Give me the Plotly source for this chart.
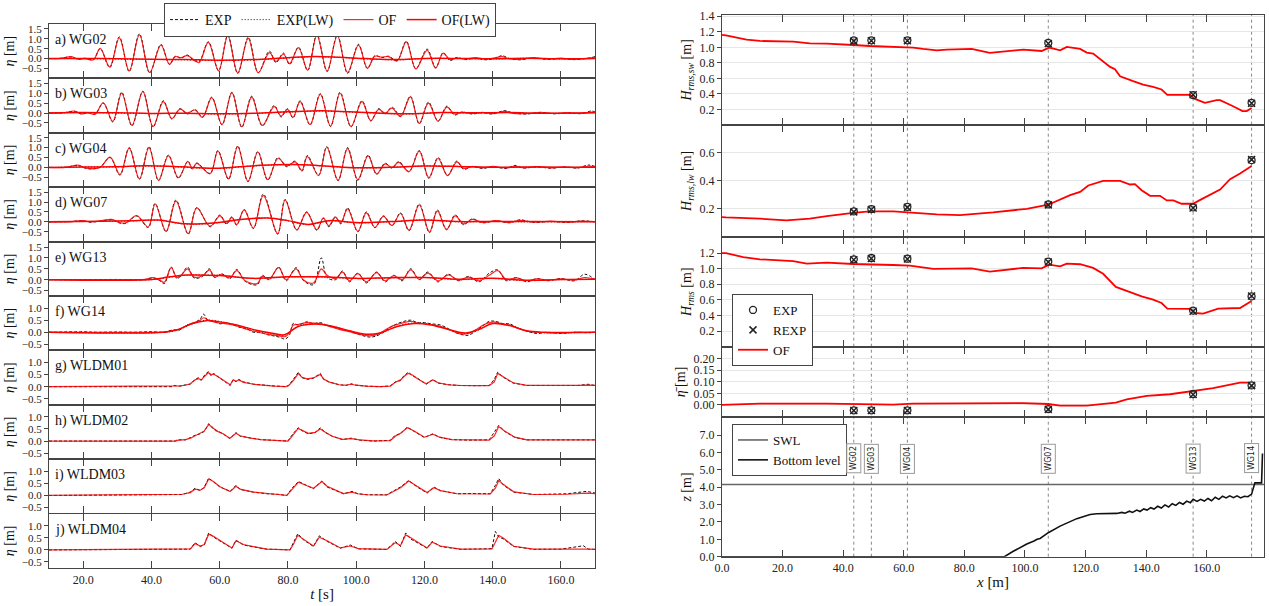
import plotly.graph_objects as go

FONT = "Liberation Serif, Times New Roman, DejaVu Serif, serif"
W, H = 1269, 606

# ---------------- left chart data (t [s], eta [m]) ----------------
PANEL_LABELS = ["a) WG02", "b) WG03", "c) WG04", "d) WG07", "e) WG13",
                "f) WG14", "g) WLDM01", "h) WLDM02", "i) WLDM03", "j) WLDM04"]
T_TICKS = [20, 40, 60, 80, 100, 120, 140, 160]

WG02_EXP = [(10,0),(13,0.01),(16.6,0.08),(18.5,-0.04),(20.5,0.02),(23,-0.05),(25,0.5),(27.8,-0.45),(30.6,1.1),(33.5,-0.65),(36.5,1.25),(39.5,-0.72),(42.8,0.72),(45.3,-0.3),(47,0.12),(48.7,0.02),(50.5,0.18),(52.5,-0.1),(54,-0.15),(56.7,0.85),(59.7,-0.6),(62.4,1.18),(65.3,-0.75),(68.4,1.08),(71.3,-0.7),(74.6,0.38),(76.5,-0.2),(78.7,0.28),(80.5,-0.3),(83.1,0.58),(85.8,-0.6),(88.5,1.22),(91.5,-0.65),(94.5,1.2),(97.5,-0.75),(100.7,0.72),(103.3,-0.5),(105.5,0.15),(107.5,0.05),(109.5,0.12),(112,-0.1),(114.7,0.88),(117.5,-0.5),(120.8,0.48),(123.3,-0.45),(125.5,0.3),(127.5,-0.1),(129.5,0.06),(132,-0.05),(135,0.02),(138,-0.06),(141,0.03),(142.7,0.15),(145,0.0),(148,-0.06),(152,0.03),(156,-0.04),(160,0.0),(164,-0.05),(168,0.02),(170,0.1)]
WG02_OF = [(10,0),(13,0.0),(16.6,0.1),(18.5,-0.03),(20.5,0.0),(23,-0.06),(25,0.52),(27.8,-0.42),(30.6,1.05),(33.5,-0.62),(36.5,1.2),(39.5,-0.7),(42.8,0.68),(45.3,-0.28),(47,0.1),(48.7,0.05),(50.5,0.15),(52.5,-0.05),(54,-0.2),(56.7,0.82),(59.7,-0.62),(62.4,1.15),(65.3,-0.72),(68.4,1.02),(71.3,-0.72),(74.6,0.3),(76.5,-0.15),(78.7,0.22),(80.5,-0.25),(83.1,0.55),(85.8,-0.58),(88.5,1.18),(91.5,-0.62),(94.5,1.15),(97.5,-0.7),(100.7,0.68),(103.3,-0.48),(105.5,0.12),(107.5,0.08),(109.5,0.1),(112,-0.12),(114.7,0.85),(117.5,-0.52),(120.8,0.42),(123.3,-0.48),(125.5,0.28),(127.5,-0.05),(129.5,0.03),(132,-0.02),(135,0.05),(138,-0.03),(141,0.05),(142.7,0.1),(145,-0.02),(148,-0.04),(152,0.05),(156,-0.02),(160,0.02),(164,-0.04),(168,0.03),(170,0.05)]
WG02_EXP_LW = [(10,0),(20,0.0),(30,-0.02),(40,-0.04),(50,-0.06),(60,-0.1),(70,-0.06),(80,0.04),(88,0.1),(95,0.06),(103,-0.02),(112,-0.06),(120,0.0),(130,0.0),(140,-0.02),(150,0.02),(160,-0.02),(170,0.02)]
WG02_OF_LW = [(10,0),(20,0.01),(30,-0.01),(40,-0.03),(50,-0.05),(60,-0.08),(70,-0.05),(80,0.05),(88,0.11),(95,0.07),(103,0.0),(112,-0.05),(120,0.01),(130,0.01),(140,-0.01),(150,0.02),(160,-0.01),(170,0.01)]

WG03_EXP = [(10,0),(14,0.01),(17.5,0.08),(19.5,-0.05),(21.5,0.02),(23.5,-0.05),(25.9,0.5),(28.7,-0.45),(31.3,1.05),(34.3,-0.65),(37.5,1.1),(40.5,-0.7),(43.5,0.62),(46,-0.3),(48.4,0.22),(50.5,-0.05),(52.8,0.18),(55,-0.2),(57.7,0.8),(60.7,-0.6),(63.6,1.05),(66.5,-0.72),(69.4,0.85),(72.5,-0.65),(76,0.38),(78,-0.2),(79.9,0.22),(81.5,-0.25),(83.6,0.62),(86.5,-0.6),(89.5,0.98),(92.5,-0.68),(95.3,1.05),(98.5,-0.7),(101.7,0.62),(104.3,-0.4),(106.6,0.22),(108.5,-0.05),(110.5,0.3),(113,-0.15),(115.9,0.85),(118.5,-0.55),(121.2,0.55),(124,-0.4),(126.6,0.35),(128.8,-0.1),(131,0.05),(134,-0.05),(137,0.02),(140,-0.05),(143.5,0.12),(146,0.0),(150,-0.05),(154,0.03),(158,-0.04),(162,0.0),(166,-0.03),(169,0.1),(170,0.05)]
WG03_OF = [(10,0),(14,0.0),(17.5,0.1),(19.5,-0.04),(21.5,0.0),(23.5,-0.06),(25.9,0.52),(28.7,-0.42),(31.3,1.0),(34.3,-0.62),(37.5,1.08),(40.5,-0.68),(43.5,0.58),(46,-0.28),(48.4,0.2),(50.5,0.0),(52.8,0.15),(55,-0.22),(57.7,0.78),(60.7,-0.58),(63.6,1.02),(66.5,-0.7),(69.4,0.8),(72.5,-0.62),(76,0.32),(78,-0.15),(79.9,0.18),(81.5,-0.22),(83.6,0.58),(86.5,-0.58),(89.5,0.95),(92.5,-0.66),(95.3,1.0),(98.5,-0.68),(101.7,0.58),(104.3,-0.38),(106.6,0.18),(108.5,0.0),(110.5,0.25),(113,-0.18),(115.9,0.82),(118.5,-0.52),(121.2,0.5),(124,-0.42),(126.6,0.3),(128.8,-0.05),(131,0.04),(134,-0.02),(137,0.04),(140,-0.03),(143.5,0.08),(146,-0.02),(150,-0.03),(154,0.04),(158,-0.02),(162,0.02),(166,-0.02),(169,0.05),(170,0.04)]
WG03_EXP_LW = [(10,0),(20,0.02),(30,0.0),(40,-0.03),(50,-0.02),(60,-0.05),(70,-0.02),(80,0.05),(90,0.1),(98,0.05),(105,0.0),(115,-0.05),(125,0.02),(135,0.0),(145,0.02),(155,-0.02),(170,0.02)]
WG03_OF_LW = [(10,0),(20,0.02),(30,0.01),(40,-0.02),(50,-0.01),(60,-0.04),(70,-0.01),(80,0.06),(90,0.11),(98,0.06),(105,0.01),(115,-0.04),(125,0.02),(135,0.01),(145,0.02),(155,-0.01),(170,0.01)]

WG04_EXP = [(10,0),(15,0.01),(18.5,0.1),(20.5,-0.03),(22.5,-0.08),(25,0.02),(27.9,0.5),(30.8,-0.39),(33.5,1.0),(36.5,-0.6),(39.3,1.05),(42.1,-0.67),(45,0.62),(47.9,-0.55),(50.7,0.32),(52,-0.1),(53.3,0.22),(57.2,-0.3),(59.5,0.85),(62.6,-0.6),(65.3,1.08),(68.3,-0.72),(71.2,0.8),(74.1,-0.64),(77.1,0.5),(79.7,0.03),(82.1,0.32),(84.1,-0.2),(85.7,0.6),(89,-0.39),(91.4,1.05),(94.7,-0.67),(97.5,1.0),(100.5,-0.65),(103.5,0.62),(106,-0.35),(108.5,0.22),(110.5,-0.05),(112.5,0.3),(115.5,-0.2),(118.5,0.85),(121.3,-0.55),(124,0.5),(126.8,-0.4),(129.5,0.32),(131.5,-0.1),(134,0.05),(137,-0.05),(140,0.03),(144,-0.05),(146.5,0.1),(149,-0.03),(153,0.03),(157,-0.04),(161,0.02),(165,-0.03),(168,0.12),(170,0.05)]
WG04_OF = [(10,0),(15,0.0),(18.5,0.12),(20.5,-0.02),(22.5,-0.06),(25,0.0),(27.9,0.52),(30.8,-0.36),(33.5,0.98),(36.5,-0.58),(39.3,1.0),(42.1,-0.65),(45,0.6),(47.9,-0.52),(50.7,0.3),(52,-0.05),(53.3,0.2),(57.2,-0.32),(59.5,0.82),(62.6,-0.58),(65.3,1.05),(68.3,-0.7),(71.2,0.78),(74.1,-0.62),(77.1,0.45),(79.7,0.08),(82.1,0.28),(84.1,-0.15),(85.7,0.55),(89,-0.42),(91.4,1.02),(94.7,-0.65),(97.5,0.95),(100.5,-0.62),(103.5,0.58),(106,-0.32),(108.5,0.18),(110.5,0.0),(112.5,0.25),(115.5,-0.22),(118.5,0.82),(121.3,-0.52),(124,0.45),(126.8,-0.42),(129.5,0.28),(131.5,-0.05),(134,0.04),(137,-0.02),(140,0.05),(144,-0.03),(146.5,0.06),(149,-0.02),(153,0.04),(157,-0.02),(161,0.03),(165,-0.02),(168,0.06),(170,0.04)]
WG04_EXP_LW = [(10,0),(20,0.02),(30,0.03),(38,0.07),(45,0.05),(52,-0.02),(60,-0.05),(68,0.05),(76,0.12),(84,0.15),(92,0.05),(100,-0.03),(110,0.0),(120,0.08),(130,0.05),(140,0.0),(150,0.02),(160,0.0),(170,0.02)]
WG04_OF_LW = [(10,0),(20,0.02),(30,0.04),(38,0.08),(45,0.06),(52,0.0),(60,-0.04),(68,0.06),(76,0.13),(84,0.14),(92,0.06),(100,-0.02),(110,0.01),(120,0.07),(130,0.05),(140,0.01),(150,0.02),(160,0.01),(170,0.01)]

WG07_EXP = [(10,0),(16,0.01),(20,0.05),(22,-0.02),(25,0.03),(28.4,0.1),(30.5,-0.05),(32.5,-0.08),(35.7,0.29),(39.1,-0.29),(41.1,0.93),(44.3,-0.5),(47.2,1.1),(50.8,-0.62),(53.3,0.72),(57.2,-0.25),(60.1,0.34),(62,-0.12),(63.6,0.25),(65,-0.17),(67.2,0.62),(69.9,-0.34),(72.8,1.4),(77,-0.62),(79.2,1.13),(82.6,-0.42),(85.5,0.5),(88.5,-0.42),(90.4,0.17),(92,-0.25),(93.9,0.22),(95.5,-0.1),(97.5,0.7),(100.5,-0.5),(103,0.5),(105.5,-0.3),(108,0.3),(110.5,-0.2),(113,0.45),(115.5,-0.45),(118.5,0.9),(121.5,-0.55),(123.8,0.6),(126.5,-0.4),(129,0.35),(131.5,-0.15),(134,0.15),(137,-0.05),(141,0.05),(145,-0.05),(148,0.1),(152,-0.03),(157,0.02),(162,-0.03),(166,0.05),(170,0.0)]
WG07_OF = [(10,0),(16,0.0),(20,0.06),(22,0.0),(25,0.05),(28.4,0.12),(30.5,-0.03),(32.5,-0.05),(35.7,0.32),(39.1,-0.26),(41.1,0.9),(44.3,-0.48),(47.2,1.05),(50.8,-0.6),(53.3,0.7),(57.2,-0.22),(60.1,0.3),(62,-0.08),(63.6,0.22),(65,-0.14),(67.2,0.6),(69.9,-0.32),(72.8,1.32),(77,-0.6),(79.2,1.1),(82.6,-0.4),(85.5,0.48),(88.5,-0.4),(90.4,0.2),(92,-0.2),(93.9,0.25),(95.5,-0.05),(97.5,0.65),(100.5,-0.48),(103,0.45),(105.5,-0.28),(108,0.28),(110.5,-0.18),(113,0.42),(115.5,-0.42),(118.5,0.85),(121.5,-0.52),(123.8,0.55),(126.5,-0.38),(129,0.3),(131.5,-0.1),(134,0.12),(137,-0.03),(141,0.06),(145,-0.03),(148,0.07),(152,-0.02),(157,0.03),(162,-0.02),(166,0.03),(170,0.01)]
WG07_EXP_LW = [(10,0),(25,0.02),(35,0.05),(42,0.08),(50,-0.12),(58,-0.08),(66,0.1),(74,0.2),(80,0.05),(86,-0.15),(92,0.05),(100,-0.05),(110,0.0),(120,0.1),(130,0.0),(140,0.02),(150,0.0),(170,0.0)]
WG07_OF_LW = [(10,0),(25,0.03),(35,0.06),(42,0.09),(50,-0.1),(58,-0.06),(66,0.12),(74,0.19),(80,0.06),(86,-0.13),(92,0.06),(100,-0.04),(110,0.01),(120,0.09),(130,0.01),(140,0.02),(150,0.01),(170,0.0)]

WG13_EXP = [(10,0),(20,0.0),(30,0.01),(38,0.0),(40.5,0.08),(42.5,-0.05),(43.8,-0.18),(45.8,0.58),(47.5,0.05),(48.8,0.2),(50.6,0.58),(52.5,0.08),(55,0.15),(57,0.5),(58.5,0.1),(60.6,0.27),(63,0.05),(65,0.47),(67.5,-0.08),(71,-0.23),(72.5,0.2),(74.5,0.0),(77.3,0.58),(79.5,-0.05),(82.4,0.55),(84.5,-0.03),(87.5,-0.23),(89.8,1.0),(91.5,0.1),(94,0.0),(96,0.4),(98,-0.1),(100.5,0.3),(103,-0.15),(106,0.35),(108.5,-0.1),(111,0.2),(113.5,-0.05),(116,0.5),(118.5,0.0),(121,0.35),(124,-0.1),(127,0.25),(130,-0.05),(133,0.15),(136,-0.1),(139,0.3),(141.5,0.45),(144,-0.05),(147,0.1),(150,-0.1),(153,0.05),(156,-0.05),(160,0.05),(164,-0.05),(167,0.25),(170,0.0)]
WG13_OF = [(10,0),(20,0.0),(30,0.0),(38,0.02),(40.5,0.1),(42.5,-0.02),(43.8,-0.12),(45.8,0.55),(47.5,0.1),(48.8,0.22),(50.6,0.5),(52.5,0.12),(55,0.18),(57,0.45),(58.5,0.12),(60.6,0.25),(63,0.08),(65,0.42),(67.5,-0.05),(71,-0.18),(72.5,0.15),(74.5,0.02),(77.3,0.55),(79.5,0.0),(82.4,0.5),(84.5,0.0),(87.5,-0.15),(89.8,0.5),(91.5,0.2),(94,0.05),(96,0.35),(98,-0.05),(100.5,0.28),(103,-0.1),(106,0.32),(108.5,-0.05),(111,0.18),(113.5,0.0),(116,0.45),(118.5,0.02),(121,0.3),(124,-0.05),(127,0.22),(130,-0.02),(133,0.12),(136,-0.05),(139,0.2),(141.5,0.42),(144,0.0),(147,0.08),(150,-0.05),(153,0.04),(156,-0.02),(160,0.04),(164,-0.02),(167,0.1),(170,0.02)]
WG13_EXP_LW = [(10,0),(40,0.0),(45,0.1),(50,0.2),(60,0.2),(70,0.05),(80,0.12),(90,0.12),(100,0.05),(110,0.08),(120,0.1),(130,0.0),(140,0.05),(150,-0.05),(160,0.0),(170,0.02)]
WG13_OF_LW = [(10,0),(40,0.01),(45,0.12),(50,0.21),(60,0.19),(70,0.06),(80,0.13),(90,0.13),(100,0.06),(110,0.09),(120,0.1),(130,0.02),(140,0.06),(150,-0.03),(160,0.01),(170,0.02)]

WG14_EXP = [(10,0),(20,0.02),(24,0.0),(30,0.01),(35,0.0),(40,0.02),(43.5,0.0),(45,0.05),(46.5,0.1),(48,0.08),(50.4,0.3),(52,0.35),(54.3,0.55),(55.3,0.75),(56.5,0.5),(58.5,0.45),(60.1,0.35),(62,0.4),(64,0.3),(66,0.2),(68,0.15),(69.9,0.0),(72,0.0),(74,-0.1),(75.8,-0.15),(77.5,-0.2),(79.2,-0.28),(80.5,-0.1),(81.6,0.37),(83,0.3),(85.6,0.43),(87.5,0.35),(89.5,0.4),(92,0.25),(95,0.15),(98,0.05),(101,-0.1),(104,-0.2),(106,-0.15),(108,0.0),(110,0.2),(112,0.35),(114,0.45),(116,0.5),(118,0.4),(120,0.4),(122,0.35),(124.7,0.3),(127,0.15),(129,0.0),(131,-0.1),(133,-0.12),(135,0.05),(137,0.25),(139,0.45),(141,0.45),(143,0.35),(145,0.35),(147,0.2),(150,0.05),(153,-0.05),(156,0.0),(160,-0.05),(164,0.0),(168,-0.02),(170,0.0)]
WG14_OF = [(10,0),(20,0.0),(24,0.0),(30,0.0),(35,0.0),(40,0.0),(43.5,0.0),(45,0.03),(46.5,0.08),(48,0.12),(50.4,0.28),(52,0.38),(54.3,0.5),(55.3,0.6),(56.5,0.52),(58.5,0.42),(60.1,0.38),(62,0.35),(64,0.3),(66,0.22),(68,0.12),(69.9,0.05),(72,-0.02),(74,-0.08),(75.8,-0.12),(77.5,-0.15),(79.2,-0.18),(80.5,-0.02),(81.6,0.3),(83,0.32),(85.6,0.4),(87.5,0.38),(89.5,0.35),(92,0.25),(95,0.12),(98,0.02),(101,-0.08),(104,-0.15),(106,-0.1),(108,0.05),(110,0.22),(112,0.32),(114,0.4),(116,0.45),(118,0.38),(120,0.36),(122,0.32),(124.7,0.25),(127,0.12),(129,0.0),(131,-0.08),(133,-0.05),(135,0.1),(137,0.28),(139,0.4),(141,0.42),(143,0.32),(145,0.3),(147,0.18),(150,0.05),(153,0.0),(156,-0.02),(160,-0.03),(164,0.0),(168,0.0),(170,0.0)]
WG14_EXP_LW = [(10,0),(44,0),(48,0.1),(52,0.35),(56,0.5),(60,0.45),(65,0.3),(70,0.1),(75,-0.05),(79,-0.12),(83,0.25),(88,0.35),(93,0.25),(98,0.05),(103,-0.1),(107,-0.05),(112,0.25),(117,0.38),(122,0.32),(127,0.12),(132,-0.05),(136,0.1),(140,0.38),(145,0.3),(150,0.05),(155,-0.02),(170,0.0)]
WG14_OF_LW = [(10,0),(44,0.01),(48,0.12),(52,0.36),(56,0.48),(60,0.43),(65,0.3),(70,0.11),(75,-0.03),(79,-0.1),(83,0.24),(88,0.34),(93,0.25),(98,0.06),(103,-0.08),(107,-0.03),(112,0.24),(117,0.36),(122,0.3),(127,0.12),(132,-0.03),(136,0.12),(140,0.36),(145,0.28),(150,0.06),(155,0.0),(170,0.0)]

WLDM01_EXP = [(10,0),(46,0),(46.5,0.05),(48.4,0.02),(50,0.08),(51.4,0.1),(52.8,0.3),(53.8,0.37),(54.6,0.26),(55.7,0.5),(56.7,0.62),(57.5,0.45),(58.2,0.55),(60.1,0.37),(62,0.18),(63.1,0.05),(64,0.3),(64.8,0.2),(65.6,0.3),(67,0.2),(70,0.1),(73,0.05),(76,0.03),(79.3,0.0),(80.2,0.05),(81.6,0.3),(83.1,0.6),(84,0.38),(85.6,0.3),(87.5,0.35),(88.5,0.45),(89.5,0.55),(90.5,0.3),(92,0.2),(95,0.08),(97,0.05),(98.5,0.12),(100,0.06),(103,0.02),(107,0.0),(110,0.03),(111.5,0.2),(113,0.25),(114,0.45),(115.3,0.6),(116.5,0.45),(118,0.35),(120.5,0.1),(122.5,0.3),(124,0.15),(127,0.08),(130,0.05),(135,0.04),(139,0.05),(140.5,0.3),(141.5,0.6),(143,0.4),(146,0.15),(150,0.05),(155,0.04),(160,0.05),(165,0.05),(168,0.1),(170,0.05)]
WLDM01_OF = [(10,0),(46,0),(47,0.03),(48.4,0.03),(50,0.06),(51.4,0.12),(52.8,0.28),(53.8,0.33),(54.6,0.28),(55.7,0.45),(56.7,0.58),(57.5,0.5),(58.2,0.52),(60.1,0.36),(62,0.2),(63.1,0.08),(64,0.28),(64.8,0.22),(65.6,0.28),(67,0.18),(70,0.1),(73,0.05),(76,0.02),(79.3,0.0),(80.2,0.04),(81.6,0.25),(83.1,0.55),(84,0.4),(85.6,0.32),(87.5,0.36),(88.5,0.42),(89.5,0.5),(90.5,0.32),(92,0.2),(95,0.08),(97,0.06),(98.5,0.1),(100,0.06),(103,0.02),(107,0.0),(110,0.02),(111.5,0.18),(113,0.28),(114,0.42),(115.3,0.55),(116.5,0.48),(118,0.33),(120.5,0.12),(122.5,0.28),(124,0.16),(127,0.08),(130,0.05),(135,0.04),(139,0.04),(140.5,0.2),(141.5,0.55),(143,0.42),(146,0.16),(150,0.05),(155,0.04),(160,0.04),(165,0.05),(168,0.06),(170,0.05)]

WLDM02_EXP = [(10,0),(47,0),(47.5,0.05),(50,0.05),(51.5,0.15),(53,0.25),(54.3,0.3),(55.5,0.4),(56.8,0.72),(57.8,0.55),(59,0.45),(61,0.3),(63,0.1),(64.8,0.35),(66,0.2),(69,0.12),(72,0.06),(76,0.03),(80,0.0),(81.5,0.3),(83,0.55),(84.5,0.4),(86,0.3),(88,0.35),(89.5,0.55),(91,0.35),(93,0.2),(96,0.06),(98.5,0.12),(101,0.04),(105,0.0),(110,0.03),(111.5,0.25),(113,0.3),(115,0.58),(117,0.4),(120,0.15),(122.5,0.3),(124.5,0.15),(128,0.06),(133,0.04),(139,0.05),(140.5,0.35),(141.8,0.65),(143.5,0.4),(146.5,0.15),(150,0.05),(160,0.05),(165,0.06),(170,0.05)]
WLDM02_OF = [(10,0),(47,0),(48,0.04),(50,0.06),(51.5,0.12),(53,0.22),(54.3,0.32),(55.5,0.42),(56.8,0.68),(57.8,0.58),(59,0.42),(61,0.3),(63,0.12),(64.8,0.32),(66,0.22),(69,0.12),(72,0.06),(76,0.02),(80,0.0),(81.5,0.25),(83,0.52),(84.5,0.42),(86,0.32),(88,0.36),(89.5,0.5),(91,0.36),(93,0.2),(96,0.07),(98.5,0.1),(101,0.05),(105,0.01),(110,0.02),(111.5,0.2),(113,0.32),(115,0.55),(117,0.42),(120,0.16),(122.5,0.28),(124.5,0.16),(128,0.06),(133,0.04),(139,0.04),(140.5,0.22),(141.8,0.6),(143.5,0.42),(146.5,0.16),(150,0.05),(160,0.04),(165,0.05),(170,0.05)]

WLDM03_EXP = [(10,0),(46.9,0.03),(49,0.04),(51.4,0.14),(52.8,0.3),(54.3,0.2),(55.5,0.35),(56.8,0.72),(58.2,0.55),(60.1,0.35),(63.1,0.17),(64.8,0.42),(66,0.25),(69.9,0.14),(73.8,0.07),(77,0.05),(79.7,0.0),(81.1,0.28),(83.1,0.58),(85.6,0.39),(87.5,0.28),(90,0.6),(91.5,0.35),(96.3,0.07),(98.8,0.17),(100.5,0.07),(103.2,0.03),(109,0.03),(111,0.2),(113,0.35),(115.4,0.62),(117.9,0.35),(120.8,0.1),(122.8,0.35),(124.7,0.2),(129.6,0.07),(132.6,0.08),(139.3,0.07),(140.8,0.42),(141.8,0.7),(143.2,0.42),(146.2,0.14),(152,0.04),(161.8,0.07),(167.6,0.17),(170,0.1)]
WLDM03_OF = [(10,0),(47,0.02),(49,0.05),(51.4,0.12),(52.8,0.26),(54.3,0.22),(55.5,0.32),(56.8,0.68),(58.2,0.58),(60.1,0.36),(63.1,0.16),(64.8,0.38),(66,0.26),(69.9,0.14),(73.8,0.07),(77,0.04),(79.7,0.0),(81.1,0.24),(83.1,0.55),(85.6,0.4),(87.5,0.3),(90,0.58),(91.5,0.38),(96.3,0.08),(98.8,0.14),(100.5,0.07),(103.2,0.03),(109,0.02),(111,0.16),(113,0.32),(115.4,0.6),(117.9,0.38),(120.8,0.12),(122.8,0.32),(124.7,0.2),(129.6,0.07),(132.6,0.06),(139.3,0.06),(140.8,0.3),(141.8,0.62),(143.2,0.45),(146.2,0.15),(152,0.04),(161.8,0.05),(167.6,0.1),(170,0.08)]

WLDM04_EXP = [(10,0),(48.4,0.04),(51.4,0.03),(52.8,0.3),(54.3,0.14),(55.5,0.2),(56.8,0.7),(58.2,0.53),(61.1,0.28),(63.6,0.07),(64.8,0.4),(67,0.2),(71.9,0.07),(73.8,0.03),(80.6,0.0),(81.6,0.28),(82.9,0.67),(84.5,0.42),(87.5,0.14),(89.2,0.58),(91.5,0.35),(95.4,0.07),(98.3,0.2),(100.7,0.04),(109,0.02),(111.5,0.35),(113,0.14),(114.5,0.7),(116,0.45),(120.8,0.07),(122.3,0.35),(124.7,0.14),(130.6,0.02),(139.8,0.05),(140.8,0.76),(141.8,0.53),(143.2,0.45),(146.2,0.14),(152,0.02),(160,0.03),(166.6,0.17),(168,0.03),(170,0.02)]
WLDM04_OF = [(10,0),(48.4,0.03),(51.4,0.04),(52.8,0.26),(54.3,0.16),(55.5,0.22),(56.8,0.65),(58.2,0.56),(61.1,0.3),(63.6,0.08),(64.8,0.38),(67,0.22),(71.9,0.08),(73.8,0.03),(80.6,0.0),(81.6,0.22),(82.9,0.6),(84.5,0.45),(87.5,0.16),(89.2,0.52),(91.5,0.38),(95.4,0.08),(98.3,0.16),(100.7,0.05),(109,0.02),(111.5,0.3),(113,0.18),(114.5,0.62),(116,0.5),(120.8,0.08),(122.3,0.32),(124.7,0.16),(130.6,0.03),(139.8,0.04),(140.8,0.3),(141.8,0.6),(143.2,0.48),(146.2,0.15),(152,0.03),(160,0.03),(166.6,0.06),(168,0.03),(170,0.02)]

# ---------------- right chart data (x [m]) ----------------
X_TICKS = [0, 20, 40, 60, 80, 100, 120, 140, 160]
WG_NAMES = ["WG02", "WG03", "WG04", "WG07", "WG13", "WG14"]
WG_X = [43.5, 49.3, 61.2, 107.7, 155.5, 174.8]

HSW_EXP = [1.09, 1.09, 1.09, 1.056, 0.384, 0.285]
HSW_REXP = [1.08, 1.085, 1.085, 1.05, 0.39, 0.28]
HLW_EXP = [0.181, 0.198, 0.214, 0.231, 0.21, 0.548]
HLW_REXP = [0.178, 0.195, 0.21, 0.228, 0.205, 0.552]
HRMS_EXP = [1.12, 1.137, 1.128, 1.09, 0.463, 0.645]
HRMS_REXP = [1.115, 1.13, 1.125, 1.085, 0.455, 0.65]
SETUP_EXP = [-0.023, -0.023, -0.023, -0.018, 0.047, 0.084]
SETUP_REXP = [-0.024, -0.024, -0.024, -0.019, 0.045, 0.083]

HSW_OF = [(0,1.16),(1.3,1.155),(8.1,1.1),(12.5,1.082),(23.5,1.074),(29,1.052),(34.6,1.048),(40,1.04),(43.3,1.03),(48.8,1.017),(56.5,1.005),(63.1,0.997),(66.4,0.979),(70.9,0.962),(74.2,0.97),(78.5,0.971),(82.4,0.979),(88.4,0.928),(99.4,0.971),(105.5,0.953),(108,0.997),(111.6,0.962),(113.8,1.005),(118.2,0.979),(120.4,0.933),(122.5,0.92),(125.8,0.825),(128.1,0.748),(129.7,0.718),(131.4,0.628),(135.7,0.564),(139,0.521),(142.3,0.49),(145.1,0.457),(147,0.388),(154.5,0.388),(156.1,0.336),(159.4,0.285),(163.3,0.32),(164.4,0.32),(168.7,0.242),(171.8,0.178),(173.2,0.18),(174.8,0.22)]
HLW_OF = [(0,0.14),(1.3,0.138),(12.5,0.129),(21.3,0.117),(29,0.129),(34.6,0.148),(43.3,0.171),(48.8,0.181),(56.5,0.181),(63.1,0.171),(70.9,0.16),(78.5,0.155),(89.5,0.174),(100.6,0.2),(107.7,0.229),(114.9,0.298),(118.2,0.321),(120.9,0.367),(125.8,0.4),(131.4,0.4),(134.7,0.374),(136.3,0.376),(138.5,0.333),(141.3,0.293),(144.6,0.293),(146.8,0.26),(149,0.26),(151.7,0.236),(155.5,0.236),(157.7,0.262),(162.1,0.31),(164.4,0.338),(167.7,0.412),(171,0.453),(174.8,0.507)]
HRMS_OF = [(0,1.2),(1.3,1.2),(7,1.149),(12.5,1.12),(23.5,1.098),(28,1.065),(34.6,1.078),(43.3,1.06),(56.5,1.047),(62,1.04),(69.8,0.997),(74.2,0.997),(78.5,1.005),(82.4,1.005),(88.4,0.963),(99.4,1.01),(105.5,1.005),(108,1.052),(111.6,1.03),(113.8,1.065),(118.2,1.057),(122.5,1.01),(125.8,0.934),(130,0.767),(134.7,0.7),(138.5,0.645),(142.3,0.603),(145.1,0.56),(147,0.488),(154.5,0.485),(156.1,0.432),(158.8,0.425),(163.8,0.488),(171,0.496),(174.8,0.585)]
SETUP_OF = [(0,0.0),(12.5,0.006),(34.6,0.006),(56.5,0.001),(63,0.006),(81.8,0.008),(99.4,0.008),(107.7,0.004),(111.6,-0.003),(120.4,-0.003),(130,0.01),(133.6,0.024),(140.2,0.039),(147.9,0.046),(155.5,0.06),(162.1,0.072),(171,0.096),(174.3,0.096)]

SWL_LEVEL = [(0,4.15),(179,4.15)]
BOTTOM = [(0,0),(93.2,0),(96,0.3),(100.6,0.73),(103,0.9),(104,1.0),(105,1.05),(105.5,1.12),(107.7,1.38),(111.6,1.76),(117.1,2.19),(121.5,2.43),(123.7,2.47),(130.3,2.49),(132,2.55),(133,2.5),(134.5,2.62),(135.5,2.55),(136.9,2.68),(138,2.6),(139.2,2.75),(140.3,2.68),(141.5,2.82),(142.6,2.74),(143.8,2.9),(145,2.8),(146.2,2.98),(147.4,2.86),(148.6,3.05),(149.8,2.95),(151,3.12),(152.2,3.02),(153.4,3.2),(154.6,3.1),(155.5,3.3),(156.8,3.18),(158,3.3),(159.2,3.2),(160.4,3.35),(161.6,3.22),(162.8,3.42),(164,3.3),(165.2,3.48),(166.4,3.38),(167.6,3.5),(168.8,3.4),(170,3.5),(171.2,3.38),(172.4,3.48),(173.6,3.45),(174.8,3.6),(175.9,4.25),(178.1,4.25),(178.4,5.94)]


def unz(pairs):
    return [p[0] for p in pairs], [p[1] for p in pairs]


def ydom(top_px, bot_px):
    return [1 - bot_px / H, 1 - top_px / H]


AX_COLOR = "#444"
TICKFONT = dict(family=FONT, size=12, color="#222")
LTICKFONT = dict(family=FONT, size=11, color="#222")
RED = "#ff0000"

fig = go.Figure()
layout = {}
annotations = []
shapes = []

LX0, LX1 = 49 / W, 595 / W
PTOP, PH = 24.0, 54.4

left_panels = [
    (WG02_EXP, WG02_OF, WG02_EXP_LW, WG02_OF_LW),
    (WG03_EXP, WG03_OF, WG03_EXP_LW, WG03_OF_LW),
    (WG04_EXP, WG04_OF, WG04_EXP_LW, WG04_OF_LW),
    (WG07_EXP, WG07_OF, WG07_EXP_LW, WG07_OF_LW),
    (WG13_EXP, WG13_OF, WG13_EXP_LW, WG13_OF_LW),
    (WG14_EXP, WG14_OF, WG14_EXP_LW, WG14_OF_LW),
    (WLDM01_EXP, WLDM01_OF, None, None),
    (WLDM02_EXP, WLDM02_OF, None, None),
    (WLDM03_EXP, WLDM03_OF, None, None),
    (WLDM04_EXP, WLDM04_OF, None, None),
]

for i, (exp, of, exp_lw, of_lw) in enumerate(left_panels):
    k = i + 1
    xs, ys = f"x{k}", f"y{k}"
    top = PTOP + PH * i
    if i < 4:
        yr = [-1.0, 1.75]; yt = [-0.5, 0, 0.5, 1.0, 1.5]
    elif i == 4:
        yr = [-0.75, 1.75]; yt = [-0.5, 0, 0.5, 1.0, 1.5]
    else:
        yr = [-0.75, 1.5]; yt = [-0.5, 0, 0.5, 1.0]
    wg = i < 6
    shape = "spline" if wg else "linear"
    t, v = unz(exp)
    fig.add_trace(go.Scatter(x=t, y=v, xaxis=xs, yaxis=ys, mode="lines", name="EXP",
                             line=dict(color="#111", width=1, dash="3px,2px", shape=shape),
                             showlegend=(i == 0), legend="legend"))
    if exp_lw is not None:
        t, v = unz(exp_lw)
        fig.add_trace(go.Scatter(x=t, y=v, xaxis=xs, yaxis=ys, mode="lines", name="EXP(LW)",
                                 line=dict(color="#111", width=1, dash="1px,2px", shape="spline"),
                                 showlegend=(i == 0), legend="legend"))
    t, v = unz(of)
    fig.add_trace(go.Scatter(x=t, y=v, xaxis=xs, yaxis=ys, mode="lines", name="OF",
                             line=dict(color=RED, width=1.2, shape=shape), opacity=0.85,
                             showlegend=(i == 0), legend="legend"))
    if of_lw is not None:
        t, v = unz(of_lw)
        fig.add_trace(go.Scatter(x=t, y=v, xaxis=xs, yaxis=ys, mode="lines", name="OF(LW)",
                                 line=dict(color=RED, width=1.5, shape="spline"),
                                 showlegend=(i == 0), legend="legend"))
    xa = dict(domain=[LX0, LX1], range=[10, 170], anchor=ys, automargin=False,
              tickvals=T_TICKS, tickformat=".1f", ticks="inside", ticklen=7,
              tickcolor=AX_COLOR, mirror="allticks", showline=True,
              linecolor=AX_COLOR, linewidth=1.3, showgrid=False, zeroline=False,
              showticklabels=(i == 9), tickfont=TICKFONT)
    if i == 9:
        xa["title"] = dict(text="<i>t</i> [s]", font=dict(family=FONT, size=15), standoff=2)
    layout[f"xaxis{k}"] = xa
    layout[f"yaxis{k}"] = dict(domain=ydom(top, top + PH), range=yr, anchor=xs, automargin=False,
                               tickvals=yt, tickformat=".1f", ticks="outside", ticklen=4,
                               tickcolor=AX_COLOR, showline=True, mirror=True,
                               linecolor=AX_COLOR, linewidth=1.3, showgrid=False, zeroline=False,
                               tickfont=LTICKFONT,
                               title=dict(text="<i>η</i> [m]", font=dict(family=FONT, size=14), standoff=3))
    ko = 100 + k
    layout[f"yaxis{ko}"] = dict(overlaying=ys, side="right", anchor=xs, range=yr, automargin=False,
                                tickvals=yt, ticks="inside", ticklen=5, tickcolor=AX_COLOR,
                                showticklabels=False, showline=False, showgrid=False, zeroline=False)
    annotations.append(dict(text=PANEL_LABELS[i], xref="paper", yref="paper",
                            x=53 / W, y=1 - (top + 16) / H, xanchor="left", yanchor="middle",
                            showarrow=False, font=dict(family=FONT, size=14, color="#111")))

# ---------------- right chart ----------------
RX0, RX1 = 722 / W, 1264 / W
right_px = [(14.7, 125.0), (125.0, 236.7), (236.7, 346.7), (346.7, 417.3), (417.3, 556.7)]
right_ranges = [[0, 1.42], [0, 0.8], [0, 1.41], [-0.053, 0.25], [0, 8.02]]
right_ticks = [[0.2, 0.4, 0.6, 0.8, 1.0, 1.2, 1.4], [0.2, 0.4, 0.6], [0.2, 0.4, 0.6, 0.8, 1.0, 1.2],
               [0.0, 0.05, 0.10, 0.15, 0.20], [0, 1, 2, 3, 4, 5, 6, 7]]
right_fmt = [".1f", ".1f", ".1f", ".2f", ".1f"]
right_titles = ["<i>H</i><sub><i>rms,sw</i></sub> [m]", "<i>H</i><sub><i>rms,lw</i></sub> [m]",
                "<i>H</i><sub><i>rms</i></sub> [m]", "<i>η̄</i> [m]", "<i>z</i> [m]"]
right_of = [HSW_OF, HLW_OF, HRMS_OF, SETUP_OF, None]
right_exp = [(HSW_EXP, HSW_REXP), (HLW_EXP, HLW_REXP), (HRMS_EXP, HRMS_REXP), (SETUP_EXP, SETUP_REXP), None]

for j in range(5):
    k = 11 + j
    xs, ys = f"x{k}", f"y{k}"
    top, bot = right_px[j]
    if right_of[j] is not None:
        xx, vv = unz(right_of[j])
        fig.add_trace(go.Scatter(x=xx, y=vv, xaxis=xs, yaxis=ys, mode="lines", name="OF",
                                 line=dict(color=RED, width=1.8), showlegend=(j == 2),
                                 legend="legend2", legendrank=3))
        e, r = right_exp[j]
        fig.add_trace(go.Scatter(x=WG_X, y=e, xaxis=xs, yaxis=ys, mode="markers", name="EXP",
                                 marker=dict(symbol="circle-open", size=7, color="#222", line=dict(width=1.3)),
                                 showlegend=(j == 2), legend="legend2", legendrank=1))
        fig.add_trace(go.Scatter(x=WG_X, y=r, xaxis=xs, yaxis=ys, mode="markers", name="REXP",
                                 marker=dict(symbol="x-thin-open", size=7, color="#222", line=dict(width=1.5)),
                                 showlegend=(j == 2), legend="legend2", legendrank=2))
    else:
        xx, vv = unz(SWL_LEVEL)
        fig.add_trace(go.Scatter(x=xx, y=vv, xaxis=xs, yaxis=ys, mode="lines", name="SWL",
                                 line=dict(color="#666", width=1.6), legend="legend3"))
        xx, vv = unz(BOTTOM)
        fig.add_trace(go.Scatter(x=xx, y=vv, xaxis=xs, yaxis=ys, mode="lines", name="Bottom level",
                                 line=dict(color="#111", width=1.6), legend="legend3"))
    xa = dict(domain=[RX0, RX1], range=[0, 178.9], anchor=ys, automargin=False,
              tickvals=X_TICKS, tickformat=".1f", ticks="inside", ticklen=7,
              tickcolor=AX_COLOR, mirror="allticks", showline=True,
              linecolor=AX_COLOR, linewidth=1.3, showgrid=False, zeroline=False,
              showticklabels=(j == 4), tickfont=TICKFONT)
    if j == 4:
        xa["title"] = dict(text="<i>x</i> [m]", font=dict(family=FONT, size=15), standoff=2)
    layout[f"xaxis{k}"] = xa
    layout[f"yaxis{k}"] = dict(domain=ydom(top, bot), range=right_ranges[j], anchor=xs, automargin=False,
                               tickvals=right_ticks[j], tickformat=right_fmt[j], ticks="outside", ticklen=4,
                               tickcolor=AX_COLOR, showline=True, mirror=True,
                               linecolor=AX_COLOR, linewidth=1.3, showgrid=(j < 4), gridcolor="#e6e6e6",
                               gridwidth=1, zeroline=False, tickfont=TICKFONT,
                               title=dict(text=right_titles[j], font=dict(family=FONT, size=14), standoff=4))
    ko = 100 + k
    layout[f"yaxis{ko}"] = dict(overlaying=ys, side="right", anchor=xs, range=right_ranges[j], automargin=False,
                                tickvals=right_ticks[j], ticks="inside", ticklen=5, tickcolor=AX_COLOR,
                                showticklabels=False, showline=False, showgrid=False, zeroline=False)

for name, xw in zip(WG_NAMES, WG_X):
    shapes.append(dict(type="line", xref="x11", yref="paper", x0=xw, x1=xw,
                       y0=1 - 556.7 / H, y1=1 - 14.7 / H, layer="below",
                       line=dict(color="#888", width=1, dash="dot")))
    annotations.append(dict(text=name, xref="x15", yref="y15", x=xw, y=5.65, textangle=-90,
                            showarrow=False, font=dict(family="DejaVu Sans", size=8, color="#222"),
                            bgcolor="white", bordercolor="#999", borderwidth=1, borderpad=2))

fig.update_layout(
    width=W, height=H, margin=dict(l=0, r=0, t=0, b=0, autoexpand=False),
    paper_bgcolor="white", plot_bgcolor="white",
    font=dict(family=FONT, size=13, color="#111"),
    annotations=annotations, shapes=shapes,
    legend=dict(orientation="h", x=330 / W, xanchor="center", y=1 - 3 / H, yanchor="top",
                bordercolor="#444", borderwidth=1, bgcolor="white",
                font=dict(family=FONT, size=14), tracegroupgap=0),
    legend2=dict(x=732 / W, xanchor="left", y=1 - 294 / H, yanchor="top",
                 bordercolor="#444", borderwidth=1, bgcolor="white",
                 font=dict(family=FONT, size=13), tracegroupgap=0),
    legend3=dict(x=732 / W, xanchor="left", y=1 - 424 / H, yanchor="top",
                 bordercolor="#444", borderwidth=1, bgcolor="white",
                 font=dict(family=FONT, size=13), tracegroupgap=0),
    **layout,
)

fig.write_html("out.html", config={"displayModeBar": False},
               post_script="document.body.style.margin='0px';document.body.style.overflow='hidden';")
